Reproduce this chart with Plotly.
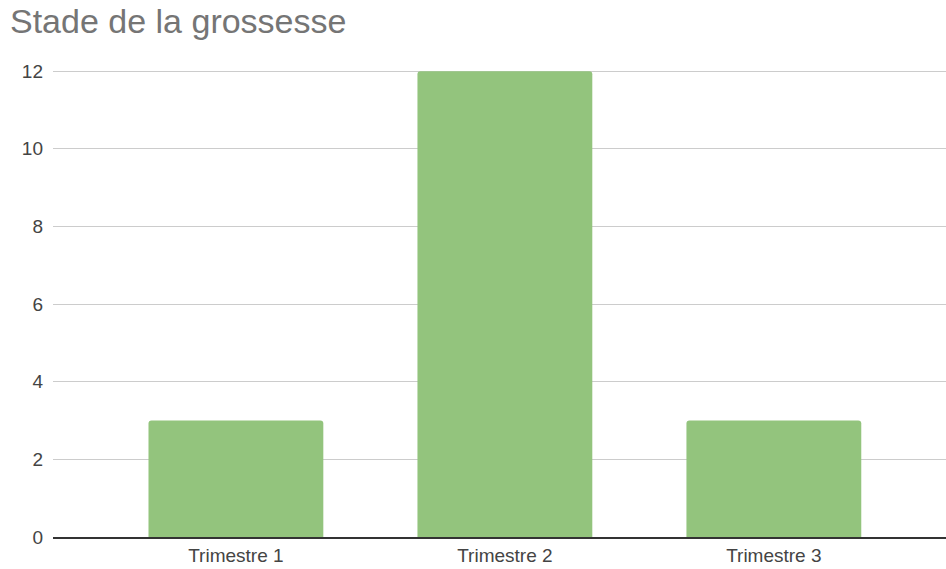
import plotly.graph_objects as go

# Number of responses per pregnancy stage
categories = ["Trimestre 1", "Trimestre 2", "Trimestre 3"]
counts = [3, 12, 3]
y_ticks = [0, 2, 4, 6, 8, 10, 12]

fig = go.Figure(
    go.Bar(
        x=categories,
        y=counts,
        marker=dict(color="#93c47d", line=dict(width=0)),
        width=0.65,
        hoverinfo="x+y",
    )
)

fig.update_layout(
    width=946,
    height=569,
    margin=dict(l=53, r=0, t=70, b=32),
    paper_bgcolor="white",
    plot_bgcolor="white",
    barcornerradius=3,
    font=dict(family="Liberation Sans, Arial, sans-serif", size=19, color="#444444"),
    title=dict(
        text="Stade de la grossesse",
        font=dict(family="Liberation Sans, Arial, sans-serif", size=34, color="#757575"),
        xref="container",
        yref="container",
        x=10 / 946,
        xanchor="left",
        y=1 - 9 / 569,
        yanchor="top",
        pad=dict(t=0, l=0),
    ),
    showlegend=False,
)

fig.update_xaxes(
    type="category",
    range=[-0.68, 2.64],
    showgrid=False,
    showline=True,
    linecolor="#333333",
    linewidth=1.5,
    ticks="",
    tickfont=dict(size=19, color="#444444"),
    fixedrange=True,
)

fig.update_yaxes(
    range=[0, 12.03],
    tickvals=y_ticks,
    showgrid=True,
    gridcolor="#cccccc",
    gridwidth=1,
    zeroline=False,
    showline=False,
    ticks="",
    ticklabelstandoff=9,
    tickfont=dict(size=19, color="#444444"),
    fixedrange=True,
)

fig.write_html("out.html")
